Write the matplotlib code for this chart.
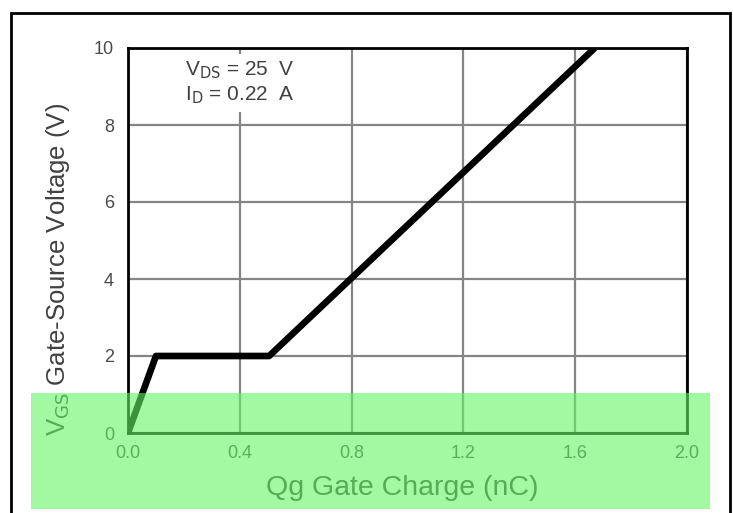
import matplotlib
matplotlib.use("Agg")
import matplotlib.pyplot as plt
from matplotlib.patches import Rectangle

plt.rcParams['font.family'] = ['Liberation Sans', 'DejaVu Sans']

# Gate charge curve (nC, V)
qg = [0.0, 0.10, 0.505, 1.67]
vgs = [0.0, 2.0, 2.0, 10.0]
x_ticks = [0.0, 0.4, 0.8, 1.2, 1.6, 2.0]
x_labels = ["0.0", "0.4", "0.8", "1.2", "1.6", "2.0"]
y_ticks = [0, 2, 4, 6, 8, 10]
y_labels = ["0", "2", "4", "6", "8", "10"]

fig = plt.figure(figsize=(7.33, 5.13), dpi=100)
ax = fig.add_axes([128 / 733, 1 - 433 / 513, 559 / 733, 385 / 513])

ax.plot(qg, vgs, color="black", lw=4.8, solid_capstyle="butt", zorder=3)

ax.set_xlim(0, 2.0)
ax.set_ylim(0, 10)
ax.set_xticks(x_ticks)
ax.set_xticklabels(x_labels)
ax.set_yticks(y_ticks)
ax.set_yticklabels(y_labels)
ax.grid(True, color="#858585", lw=1.6)
ax.tick_params(length=0, labelsize=13, colors="#4a4a4a", pad=10)
ax.tick_params(axis="x", pad=9)
for s in ax.spines.values():
    s.set_linewidth(2)
    s.set_color("black")

ax.set_xlabel("Qg Gate Charge (nC)", fontsize=20.5, color="#404040")
ax.set_ylabel("V$_{\\mathrm{GS}}$ Gate-Source Voltage (V)", fontsize=18.5, color="#404040")
ax.xaxis.set_label_coords(0.49, -0.11)
ax.yaxis.set_label_coords(-0.10, 0.425)

ax.text(0.205, 9.7, "V$_{\\mathrm{DS}}$ = 25  V\nI$_{\\mathrm{D}}$ = 0.22  A", fontsize=15,
        color="#404040", va="top", ha="left", linespacing=1.2,
        bbox=dict(facecolor="white", edgecolor="none", pad=4), zorder=4)

# outer frame
fig.patches.append(Rectangle((11 / 733, -0.05), 719 / 733, 1.05 - 13 / 513,
                             transform=fig.transFigure, fill=False,
                             edgecolor="black", lw=2))
# green overlay band at the bottom
fig.patches.append(Rectangle((31 / 733, 1 - 509 / 513), 679 / 733, 116 / 513,
                             transform=fig.transFigure, facecolor="#64f564",
                             alpha=0.6, edgecolor="none", zorder=10))

fig.savefig("out.png", dpi=100)
